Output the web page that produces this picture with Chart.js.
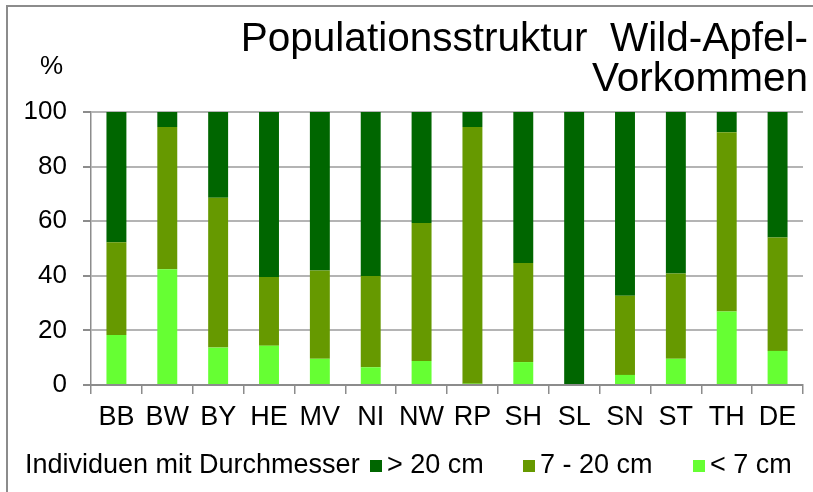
<!DOCTYPE html>
<html>
<head>
<meta charset="utf-8">
<script src="https://cdn.jsdelivr.net/npm/chart.js@4"></script>
<style>
body { margin: 0; background: #fff; }
#wrap { position: relative; width: 813px; height: 492px; overflow: hidden; font-family: 'Liberation Sans', Arial, sans-serif; color: #000; }
#frame { position: absolute; left: 6px; top: 5px; width: 820px; height: 500px; border-left: 2px solid #8c8c8c; border-top: 2px solid #8c8c8c; }
#chart { position: absolute; left: 0; top: 0; }
.title { position: absolute; right: 5px; font-size: 40.5px; white-space: pre; text-align: right; line-height: 40px; top: 17px; }
.unit { position: absolute; left: 40px; top: 50px; font-size: 26px; }
#legend { position: absolute; left: 0; top: 449px; width: 813px; height: 40px; font-size: 27px; white-space: nowrap; }
#legend span { position: absolute; top: 0; }
#legend span.box { width: 12px; height: 12px; top: 11px; }
</style>
</head>
<body>
<div id="wrap">
  <div id="frame"></div>
  <canvas id="chart" width="813" height="492"></canvas>
  <div class="title">Populationsstruktur  Wild-Apfel-
Vorkommen</div>
  <div class="unit">%</div>
  <div id="legend"></div>
</div>
<script>
// Bundeslaender
var labels = ['BB', 'BW', 'BY', 'HE', 'MV', 'NI', 'NW', 'RP', 'SH', 'SL', 'SN', 'ST', 'TH', 'DE'];

// Anteile in % je Durchmesserklasse
var small = [18.3, 42.4, 13.7, 14.4, 9.6, 6.5, 8.8, 0.5, 8.4, 0, 3.7, 9.6, 26.9, 12.5];
var medium = [34.0, 52.1, 54.9, 25.2, 32.3, 33.4, 50.5, 94.0, 36.3, 0, 29.0, 31.2, 65.7, 41.5];
var large = [47.7, 5.5, 31.4, 60.4, 58.1, 60.1, 40.7, 5.5, 55.3, 100, 67.3, 59.2, 7.4, 46.0];

var yTicks = [0, 20, 40, 60, 80, 100];
var legendTitle = 'Individuen mit Durchmesser';

var font = "'Liberation Sans', Arial, sans-serif";
var gridColor = '#b4b4b4';
var axisColor = '#8c8c8c';

var conf = {
    type: 'bar',
    data: {
        labels: labels,
        datasets: [
            { label: '< 7 cm', data: small, backgroundColor: '#66ff33' },
            { label: '7 - 20 cm', data: medium, backgroundColor: '#669900' },
            { label: '> 20 cm', data: large, backgroundColor: '#006600' },
        ],
    },
    options: {
        responsive: false,
        animation: false,
        layout: { padding: { top: 112, right: 10, bottom: 67, left: 0 } },
        datasets: { bar: { barPercentage: 0.8, categoryPercentage: 0.49 } },
        plugins: { legend: { display: false }, tooltip: { enabled: false } },
        scales: {
            x: {
                stacked: true,
                grid: { offset: true, drawOnChartArea: false, color: axisColor, tickLength: 9, lineWidth: 1.5 },
                border: { color: axisColor, width: 2 },
                ticks: { color: '#000', padding: 7, maxRotation: 0, minRotation: 0, autoSkip: false,
                         font: { family: font, size: 27 } },
                afterFit: function(scale) { scale.height = 40; },
            },
            y: {
                stacked: true,
                min: 0,
                max: 100,
                afterBuildTicks: function(scale) {
                    scale.ticks = yTicks.map(function(v) { return { value: v }; });
                },
                grid: { color: gridColor, lineWidth: 2, tickLength: 8, tickColor: axisColor },
                border: { color: axisColor, width: 1.5 },
                ticks: { color: '#000', padding: 16, font: { family: font, size: 26 } },
                afterFit: function(scale) { scale.width = 91; },
            },
        },
    },
};

var chart = new Chart(document.getElementById('chart').getContext('2d'), conf);

// legend in the reference order: title, then > 20, 7 - 20, < 7
var legend = document.getElementById('legend');
var title = document.createElement('span');
title.textContent = legendTitle;
title.style.left = '25px';
legend.appendChild(title);
var boxX = [370, 523, 693];
var ds = chart.data.datasets.slice().reverse();
for (var i = 0; i < ds.length; i++) {
    var box = document.createElement('span');
    box.className = 'box';
    box.style.left = boxX[i] + 'px';
    box.style.background = ds[i].backgroundColor;
    legend.appendChild(box);
    var txt = document.createElement('span');
    txt.textContent = ds[i].label;
    txt.style.left = (boxX[i] + 17) + 'px';
    legend.appendChild(txt);
}
</script>
</body>
</html>
